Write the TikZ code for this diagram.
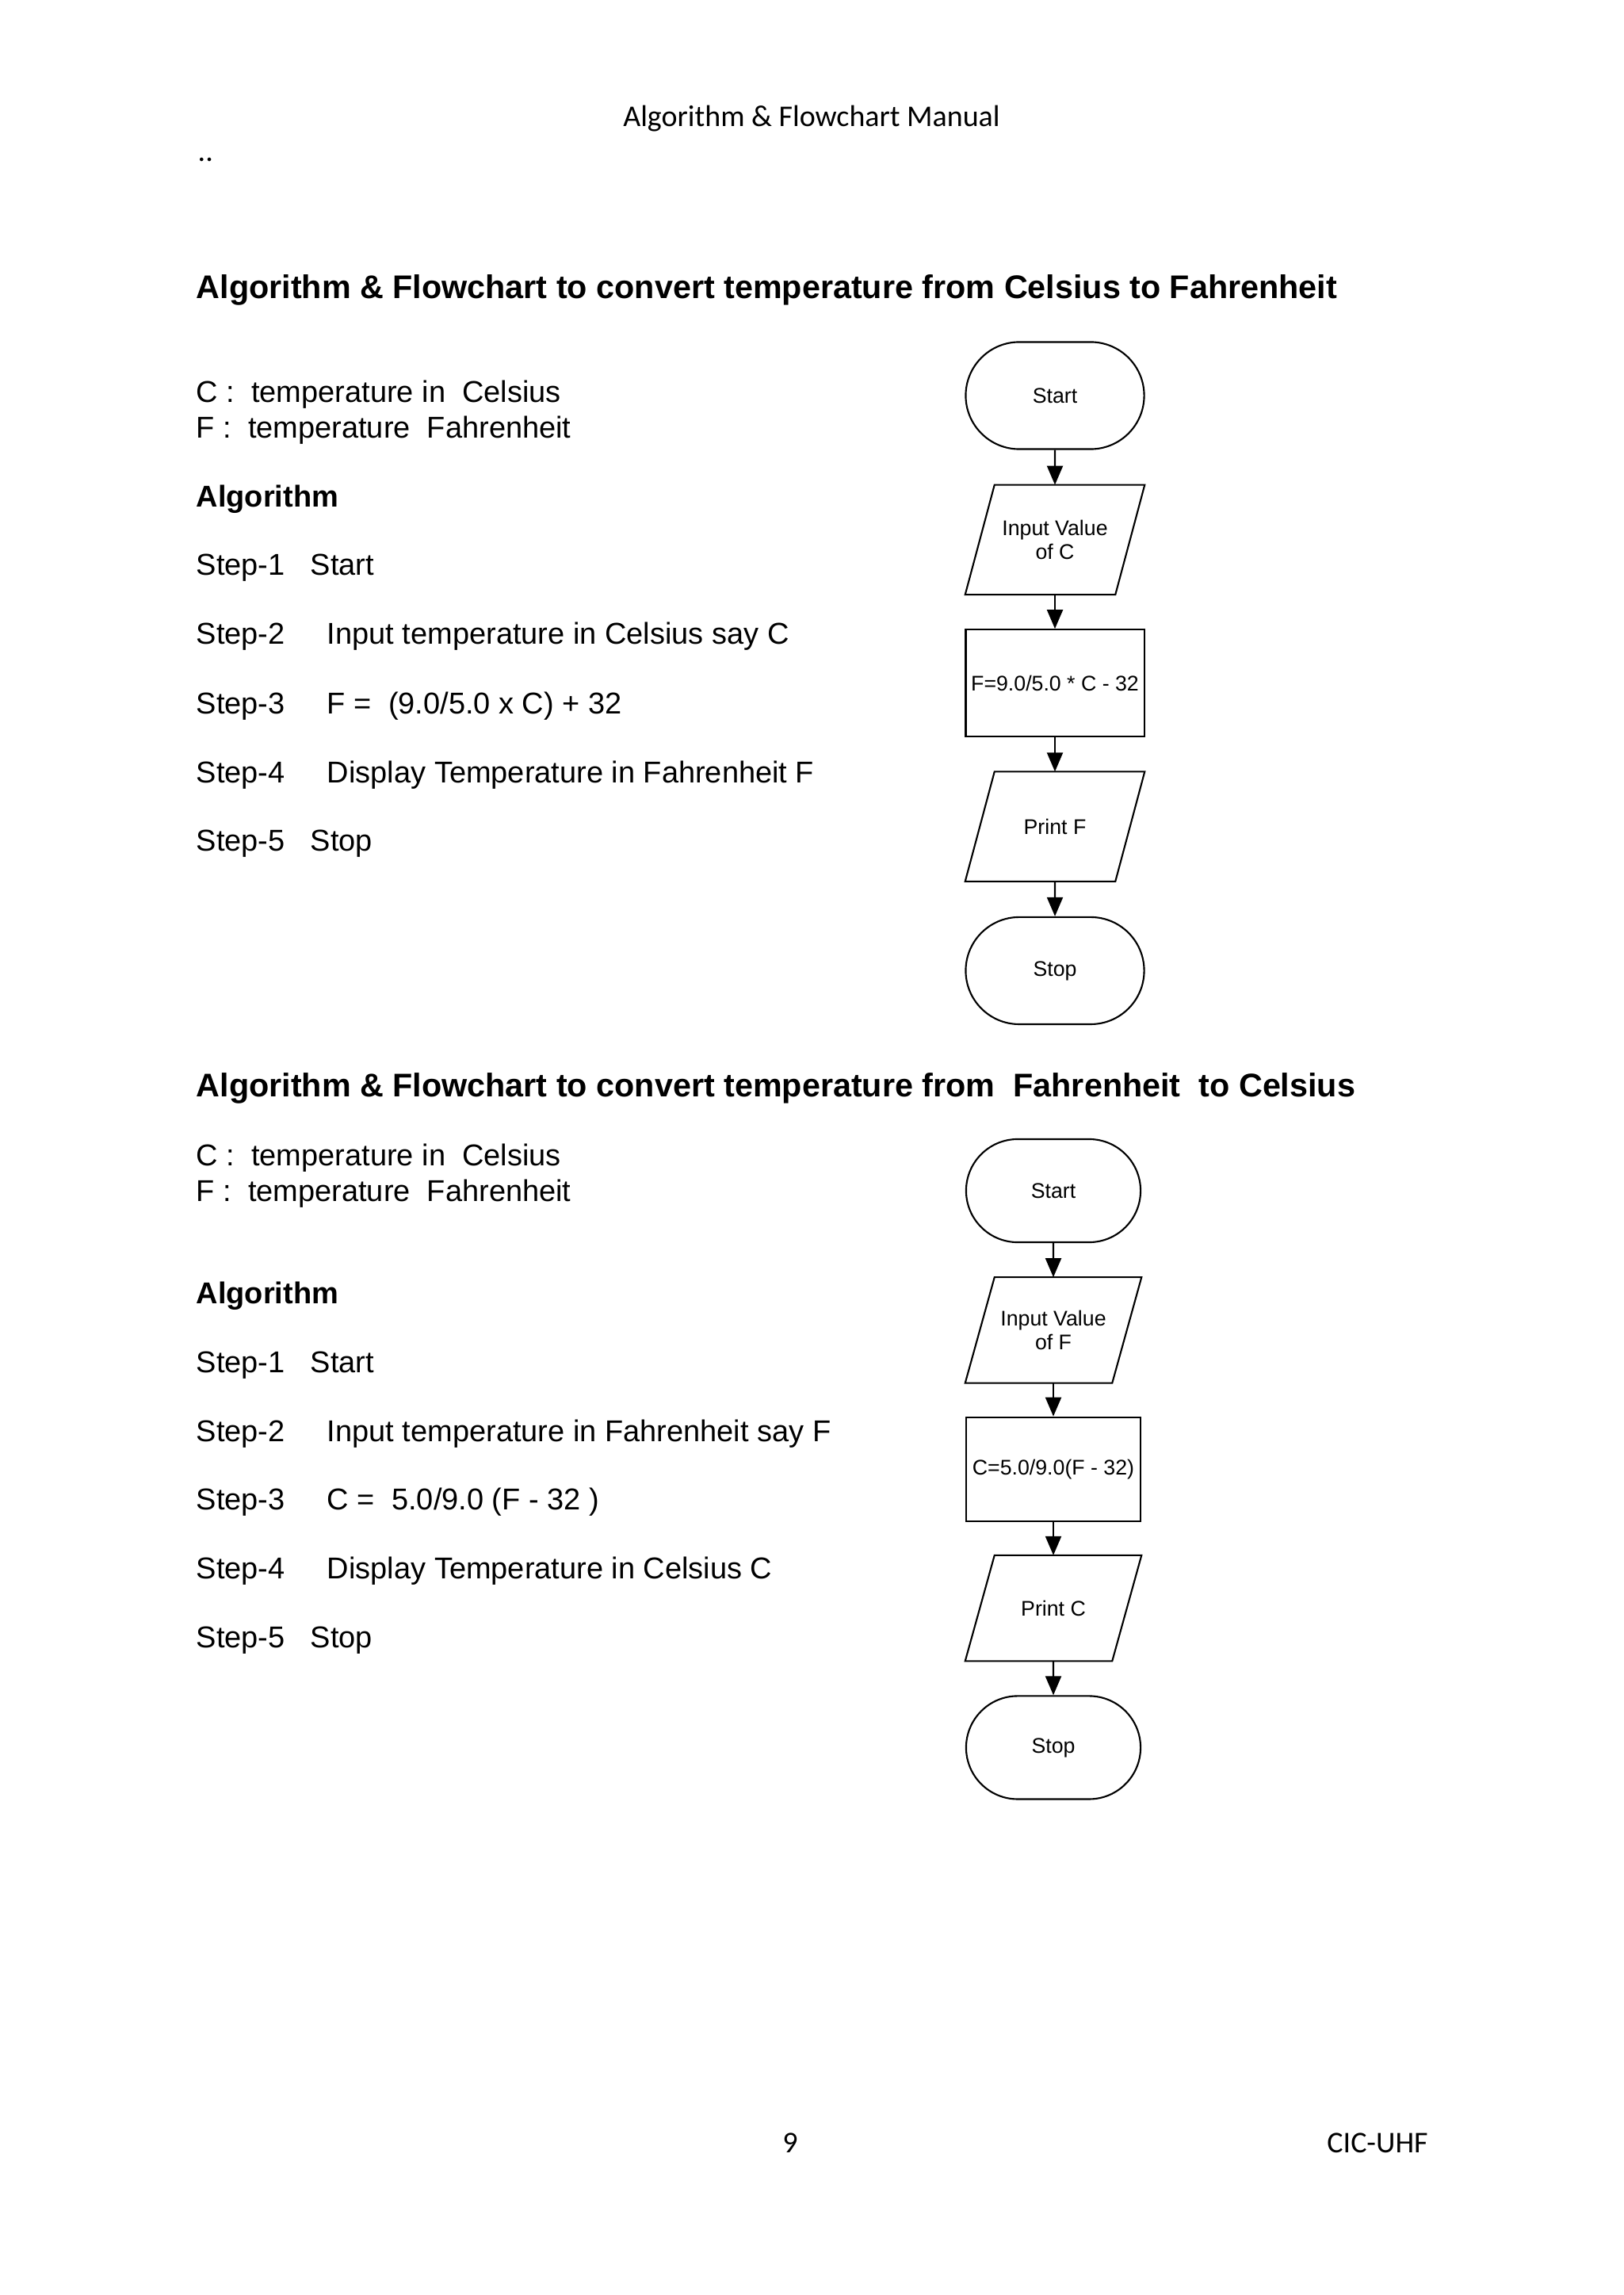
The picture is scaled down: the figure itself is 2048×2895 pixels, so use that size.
\documentclass[tikz,border=0pt]{standalone}
\usepackage{fontspec}
\setmainfont{Liberation Sans}
\newfontfamily\pagefont{Carlito}
\usetikzlibrary{positioning,arrows.meta,shapes.misc}

\tikzset{
  termbox/.style={draw, line width=0.6pt, rounded rectangle, minimum width=2.25cm, minimum height=1.35cm, inner sep=0pt, font=\fontsize{7.6}{8.4}\selectfont},
  iobox/.style={rectangle, minimum width=1.88cm, minimum height=1.37cm, inner sep=0pt, align=center, font=\fontsize{7.6}{8.4}\selectfont,
    append after command={\pgfextra{\draw[line width=0.6pt]
      ([xshift=-1.85mm]\tikzlastnode.south west) -- ([xshift=1.85mm]\tikzlastnode.north west)
      -- ([xshift=1.85mm]\tikzlastnode.north east) -- ([xshift=-1.85mm]\tikzlastnode.south east) -- cycle;}}},
  procbox/.style={draw, line width=0.6pt, rectangle, minimum width=2.25cm, minimum height=1.35cm, inner sep=0pt, font=\fontsize{7.6}{8.4}\selectfont},
  flowarrow/.style={-{Triangle[length=2.4mm,width=2mm]}, line width=0.6pt},
  bodytext/.style={anchor=base west, inner sep=0pt, font=\fontsize{10.8}{12.4}\selectfont},
  headtext/.style={anchor=base west, inner sep=0pt, font=\fontsize{11.75}{13.5}\selectfont\bfseries},
  pagetext/.style={anchor=base, inner sep=0pt, font=\pagefont\fontsize{10.8}{12.4}\selectfont}
}
\newcommand{\steplabel}[2][41pt]{\makebox[#1][l]{#2}}

\begin{document}
\begin{tikzpicture}[x=0.01cm, y=-0.01cm]
  \useasboundingbox (0,0) rectangle (2048,2895);

  % page header and footer
  \node[pagetext] (manual) at (1024,160) {Algorithm \& Flowchart Manual};
  \node[pagetext, anchor=base west] (dots) at (249,204) {..};
  \node[pagetext] (pageno) at (997,2715) {9};
  \node[pagetext] (dept) at (1738,2715) {CIC-UHF};

  % Celsius to Fahrenheit
  \node[headtext] (titleA) at (247,377) {Algorithm \& Flowchart to convert temperature from Celsius to Fahrenheit};
  \node[bodytext] (varcA) at (247,508) {C :\ \ temperature in\ \ Celsius};
  \node[bodytext] (varfA) at (247,553) {F :\ \ temperature\ \ Fahrenheit};
  \node[bodytext, font=\fontsize{10.8}{12.4}\selectfont\bfseries] (algoA) at (247,640) {Algorithm};
  \node[bodytext] (stepA1) at (247,726) {\steplabel{Step-1}Start};
  \node[bodytext] (stepA2) at (247,813) {\steplabel[47pt]{Step-2}Input temperature in Celsius say C};
  \node[bodytext] (stepA3) at (247,900) {\steplabel[47pt]{Step-3}F =\ \ (9.0/5.0 x C) + 32};
  \node[bodytext] (stepA4) at (247,987) {\steplabel[47pt]{Step-4}Display Temperature in Fahrenheit F};
  \node[bodytext] (stepA5) at (247,1073) {\steplabel{Step-5}Stop};

  \node[termbox] (startA) at (1331,499) {Start};
  \node[iobox, below=0.44cm of startA] (inA) {Input Value\\of C};
  \node[procbox, below=0.43cm of inA] (calcA) {F=9.0/5.0 * C - 32};
  \node[iobox, below=0.43cm of calcA] (outA) {Print F};
  \node[termbox, below=0.44cm of outA] (stopA) {Stop};

  \draw[flowarrow] (startA) -- (inA);
  \draw[flowarrow] (inA) -- (calcA);
  \draw[flowarrow] (calcA) -- (outA);
  \draw[flowarrow] (outA) -- (stopA);

  % Fahrenheit to Celsius
  \node[headtext] (titleB) at (247,1383) {Algorithm \& Flowchart to convert temperature from\ \ Fahrenheit\ \ to Celsius};
  \node[bodytext] (varcB) at (247,1470) {C :\ \ temperature in\ \ Celsius};
  \node[bodytext] (varfB) at (247,1515) {F :\ \ temperature\ \ Fahrenheit};
  \node[bodytext, font=\fontsize{10.8}{12.4}\selectfont\bfseries] (algoB) at (247,1644) {Algorithm};
  \node[bodytext] (stepB1) at (247,1731) {\steplabel{Step-1}Start};
  \node[bodytext] (stepB2) at (247,1818) {\steplabel[47pt]{Step-2}Input temperature in Fahrenheit say F};
  \node[bodytext] (stepB3) at (247,1904) {\steplabel[47pt]{Step-3}C =\ \ 5.0/9.0 (F - 32 )};
  \node[bodytext] (stepB4) at (247,1991) {\steplabel[47pt]{Step-4}Display Temperature in Celsius C};
  \node[bodytext] (stepB5) at (247,2078) {\steplabel{Step-5}Stop};

  \begin{scope}[termbox/.append style={minimum width=2.2cm, minimum height=1.3cm},
                iobox/.append style={minimum width=1.84cm, minimum height=1.32cm},
                procbox/.append style={minimum width=2.2cm, minimum height=1.31cm}]
    \node[termbox] (startB) at (1329,1502) {Start};
    \node[iobox, below=0.43cm of startB] (inB) {Input Value\\of F};
    \node[procbox, below=0.42cm of inB] (calcB) {C=5.0/9.0(F - 32)};
    \node[iobox, below=0.42cm of calcB] (outB) {Print C};
    \node[termbox, below=0.43cm of outB] (stopB) {Stop};
  \end{scope}

  \draw[flowarrow] (startB) -- (inB);
  \draw[flowarrow] (inB) -- (calcB);
  \draw[flowarrow] (calcB) -- (outB);
  \draw[flowarrow] (outB) -- (stopB);

\end{tikzpicture}
\end{document}
